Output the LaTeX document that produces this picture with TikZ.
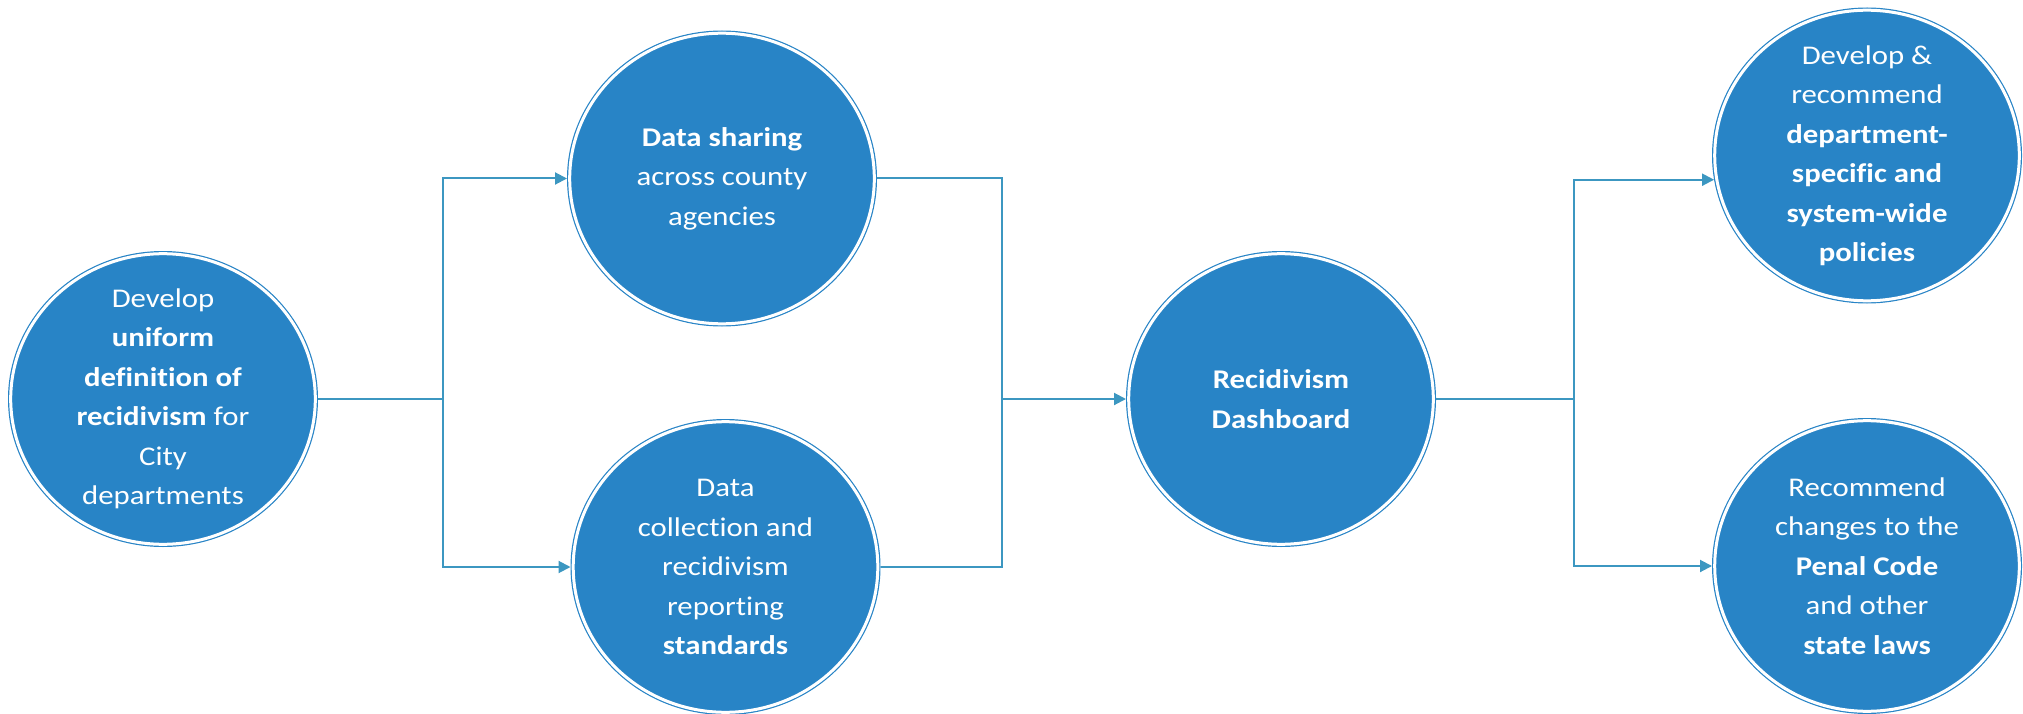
\documentclass[tikz,border=0pt]{standalone}
\usepackage{fontspec}
\setmainfont{Carlito}[FakeStretch=1.14,Ligatures=NoCommon]
\usetikzlibrary{arrows.meta,shapes.geometric}
\definecolor{discblue}{HTML}{2884C6}
\definecolor{linkblue}{HTML}{3C97C1}
\begin{document}
\begin{tikzpicture}[x=1pt,y=-1pt,
  disc/.style={ellipse, fill=discblue, draw=discblue, double=white,
    double distance=3pt, line width=1.2pt, minimum width=304.6pt,
    minimum height=290.6pt, inner sep=0pt, outer sep=2.7pt},
  disctext/.style={text=white, align=center, inner sep=0pt,
    font=\fontsize{27}{39.5}\selectfont},
  link/.style={draw=linkblue, line width=2pt},
  flow/.style={link, -{Triangle[length=12pt,width=12pt]}}]
\useasboundingbox (0,0) rectangle (2023,714);

% circles
\node[disc] (c1) at (163,399) {};
\node[disc] (c2) at (722,178.5) {};
\node[disc] (c3) at (725.5,567) {};
\node[disc] (c4) at (1281,399) {};
\node[disc] (c5) at (1867,155.5) {};
\node[disc] (c6) at (1867,566) {};

% circle texts
\node[disctext] (t1) at (c1.center) {Develop\\\textbf{uniform}\\\textbf{definition of}\\\textbf{recidivism} for\\City\\departments};
\node[disctext] (t2) at (c2.center) {\textbf{Data sharing}\\across county\\agencies};
\node[disctext] (t3) at (c3.center) {Data\\collection and\\recidivism\\reporting\\\textbf{standards}};
\node[disctext] (t4) at (c4.center) {\textbf{Recidivism}\\\textbf{Dashboard}};
\node[disctext] (t5) at (c5.center) {Develop \&\\recommend\\\textbf{department-}\\\textbf{specific and}\\\textbf{system-wide}\\\textbf{policies}};
\node[disctext] (t6) at (c6.center) {Recommend\\changes to the\\\textbf{Penal Code}\\and other\\\textbf{state laws}};

% branch points
\coordinate (j1) at (443,399);
\coordinate (j2) at (1002,399);
\coordinate (j3) at (1574,399);

% connectors
\draw[flow] (c1.east) -- (j1) |- (c2.west);
\draw[flow] (c1.east) -- (j1) |- (c3.west);
\draw[flow] (c2.east) -| (j2) -- (c4.west);
\draw[link] (c3.east) -| (j2);
\draw[link] (c4.east) -- (j3);
\draw[flow] (j3) |- (c5.189);
\draw[flow] (j3) |- (c6.west);
\end{tikzpicture}
\end{document}
